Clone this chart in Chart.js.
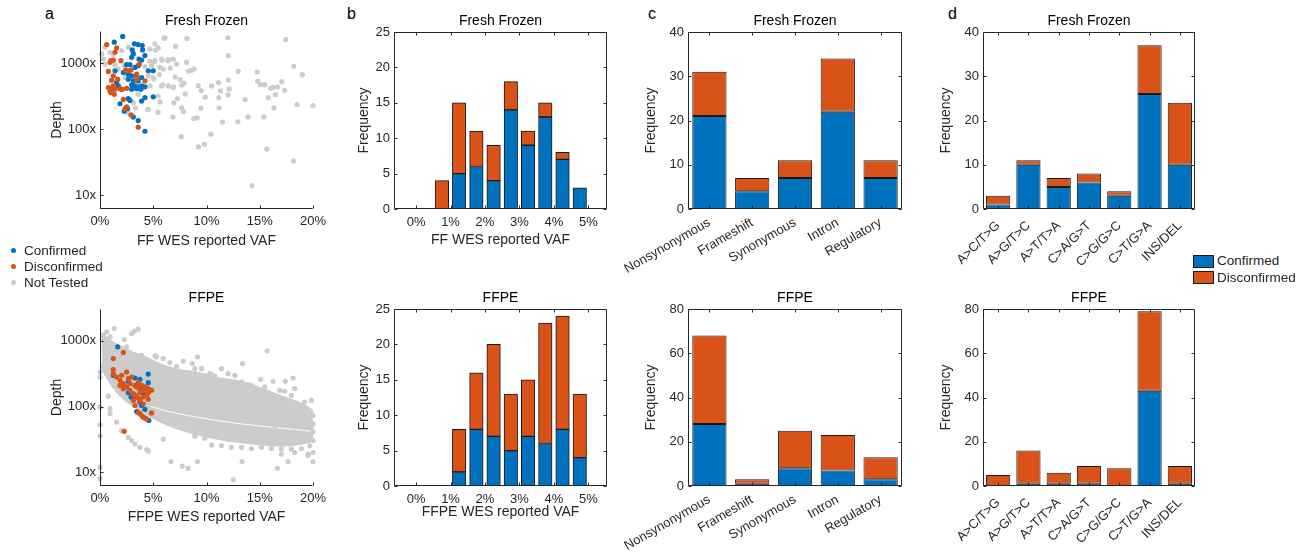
<!DOCTYPE html>
<html>
<head>
<meta charset="utf-8">
<script src="https://cdn.jsdelivr.net/npm/chart.js@4.4.0/dist/chart.umd.min.js"></script>
<style>
  body { margin: 0; background: #fff; width: 1311px; height: 557px; position: relative; overflow: hidden;
         font-family: 'Liberation Sans', Arial, Helvetica, sans-serif; }
  .tag { position: absolute; font-size: 16px; line-height: 16px; color: #000; }
  .lg { position: absolute; font-size: 13.5px; line-height: 16px; color: #262626; white-space: nowrap; }
  .lg span.dot { position: absolute; width: 5px; height: 5px; border-radius: 50%; }
  .lg span.box { position: absolute; width: 19px; height: 11px; border: 1px solid #1a1a1a; }
</style>
</head>
<body>
<div class="tag" style="left:45px;top:6px">a</div>
<div class="tag" style="left:347px;top:6px">b</div>
<div class="tag" style="left:648px;top:6px">c</div>
<div class="tag" style="left:948px;top:6px">d</div>

<script>
// ---- data ----
const seriesNames = ['Confirmed', 'Disconfirmed', 'Not Tested'];

// panel a, Fresh Frozen: [WES VAF %, depth]
const ffConf = [[2.13,2523],[1.34,2068],[3.22,1950],[3.59,1905],[3.97,1840],[3.03,1578],[4.0,1578],[3.13,1372],
  [4.22,1294],[2.97,1220],[3.66,1151],[3.91,1110],[2.81,943],[2.5,943],[3.59,911],[3.28,859],[4.53,764],[5.0,764],
  [1.41,764],[2.19,720],[2.66,679],[2.97,641],[3.44,641],[3.91,604],[2.66,570],[3.13,537],[3.59,537],[1.56,507],
  [1.72,451],[2.97,466],[3.28,451],[3.59,437],[3.91,451],[4.22,437],[2.97,401],[3.44,410],[3.84,401],[2.03,401],
  [4.22,299],[5.0,308],[2.66,290],[2.81,272],[1.88,242],[3.91,266],[2.59,205],[2.28,187],[3.13,152],[3.59,135],[4.22,93]];
const ffDisc = [[0.63,1905],[1.56,1694],[1.41,1455],[1.03,1085],[1.25,1110],[0.94,1024],[1.97,1085],[2.66,764],
  [2.91,782],[2.41,782],[3.44,679],[0.78,746],[1.25,641],[3.44,570],[4.22,537],[1.09,550],[1.66,570],[1.09,415],
  [1.41,401],[1.03,356],[1.88,410],[2.09,401],[1.25,451],[2.5,415],[1.34,336],[2.19,282],[2.5,218],[2.91,163],
  [3.59,107],[0.78,425],[0.94,378],[3.69,960],[2.34,202]];
const ffNone = [[6.09,2400],[5.16,1950],[5.47,1694],[4.69,1620],[2.66,1735],[2.03,1542],[0.94,1455],[1.25,1340],
  [5.16,1085],[5.78,1151],[6.41,1085],[6.88,1151],[4.84,911],[5.63,859],[0.16,1372],[0.31,1151],[0.47,965],
  [0.47,1735],[1.41,943],[1.72,810],[2.28,911],[4.22,880],[4.53,641],[5.0,604],[5.78,451],[6.41,451],[6.88,425],
  [4.69,451],[5.47,317],[4.53,199],[3.13,251],[3.34,210],[2.66,177],[2.97,166],[3.59,336],[2.34,604],
  [6.03,2355],[8.16,2355],[12.0,2410],[17.44,2275],[7.09,1783],[5.22,1571],[12.06,1290],[8.13,1023],[4.66,1072],
  [5.06,1047],[5.84,1097],[6.41,1122],[7.19,966],[6.59,841],[5.94,812],[8.84,812],[8.31,758],[8.59,775],[12.97,749],
  [14.75,732],[18.19,891],[19.0,667],[7.06,615],[7.53,561],[7.88,499],[7.69,466],[5.88,466],[11.13,505],[12.06,554],
  [14.81,529],[15.47,471],[15.06,471],[17.06,523],[5.06,574],[5.56,667],[9.22,455],[6.88,435],[10.47,450],[11.31,378],
  [12.13,406],[16.66,435],[16.25,430],[16.03,415],[17.34,387],[16.47,333],[15.81,300],[9.5,383],[9.88,304],[8.0,341],
  [7.28,290],[6.94,249],[5.63,258],[4.47,198],[5.44,180],[7.66,210],[7.84,185],[9.47,207],[11.16,300],[12.03,330],
  [11.19,210],[13.63,280],[16.34,210],[18.5,235],[20.0,227],[6.84,152],[8.81,145],[9.13,148],[11.5,128],[12.94,129],
  [13.91,153],[15.38,153],[7.63,77],[9.25,54],[9.81,59],[10.41,84],[15.66,50],[18.16,33],[14.28,14]];

// panel a, FFPE
const ffpeConf = [[1.66,810],[4.53,312],[3.28,272],[3.75,260],[2.66,242],[3.44,210],[1.25,299],[4.53,231],[3.91,177],
  [2.66,163],[2.91,140],[3.22,152],[3.91,104],[4.22,91],[3.44,84],[4.59,61.5],[3.75,117],[4.38,191],[4.16,152]];
const ffpeDisc = [[1.25,537],[2.19,664],[1.25,366],[1.25,317],[1.56,282],[1.88,251],[2.19,223],[2.5,199],[2.81,177],
  [3.13,157],[3.44,140],[3.75,124],[4.06,110],[2.5,336],[2.03,299],[2.66,266],[2.97,282],[2.81,223],[3.28,210],
  [3.59,191],[3.91,210],[4.22,199],[4.53,187],[4.84,177],[3.75,163],[3.28,148],[3.59,135],[4.06,140],[4.38,148],
  [4.53,129],[3.13,124],[3.28,104],[4.84,80],[3.59,82],[3.75,78],[3.91,73],[4.06,69],[4.22,67],[4.38,65],[3.44,199],
  [3.59,231],[4.06,177],[2.28,42],[1.88,210],[2.19,187],[4.53,163]];
const ffpeNone = [[0.63,1372],[1.34,1542],[2.28,1047],[2.97,1294],[3.59,1506],[3.22,1405],[0,336],[0,279],[0,98],
  [0,53],[0,36],[0,12],[0,8],[0.78,144],[0.94,93],[0.94,78],[1.56,58],[2.03,43],[2.66,34],[2.97,30.4],[3.28,27],
  [3.75,24],[4.38,22.2],[4.53,21.2],[5.94,32],[6.66,14.6],[7.72,12.4],[8.28,11.5],[9.16,14.6],[12.5,7.7],[13.34,14.6],
  [16.66,11.5],[17.66,14.6],[19.53,18],[20,14.6],[15.69,703],[13.38,451],[16.25,242],[18.13,272],[17.41,242],
  [5.31,570],[5.94,537],[7.81,490],[8.66,451],[9.16,570],[10.47,306],[9.94,292],[11.41,378],[12.03,317],[12.66,299],
  [13.91,216],[15.09,260],[15.78,166],[17.34,171],[18.28,187],[18.66,104],[19.22,117],[19.84,124],[20,73],[20,55],
  [18.91,55],[17.97,69],[19.53,61.5],[17.03,104],[15.78,61.5],[16.41,46],[18.28,49],[0.31,1220],[0.94,1151],
  [2.5,810],[3.28,604],[3.91,604],[5.16,590],[6.56,467],[7.19,410],[8.91,378],[9.53,378],[10.31,317],[10.78,292],
  [13.28,237],[14.22,210],[15.47,199],[16.88,177],[17.97,148],[8.91,35.5],[9.84,33],[10.47,26],[11.41,25.5],
  [12.34,24],[13.28,24],[14.22,23],[15.16,24],[16.09,23],[17.03,22.7],[17.97,22.7],[18.91,23],[19.69,25.5],[20,30.4],
  [20,41],[17.03,19],[18.28,20],[19.53,19],[20,20],[19.53,73],[19.69,58],[19.84,49],[19.53,36]];
// dense cloud of untested FFPE calls: upper and lower edge, and the thin empty arc inside it
const ffpeCloudTop = [[0.09,1151],[0.47,1085],[1.09,911],[2.03,764],[2.97,641],[4.22,537],[5.16,451],[6.41,378],
  [7.66,336],[8.91,317],[10.16,282],[11.41,251],[12.66,237],[13.91,210],[15.16,177],[16.41,148],[17.66,124],
  [18.91,104],[19.84,84],[20,73]];
const ffpeCloudBottom = [[0.16,451],[0.78,282],[1.41,199],[2.03,152],[2.66,124],[3.59,98],[4.53,78],[5.78,61.5],
  [7.34,48.6],[8.91,40.8],[10.47,35.5],[12.03,32],[13.59,29.7],[15.16,28],[16.72,27.1],[18.28,27.6],[19.53,30.4],[20,34.2]];
const ffpeCloudGap = [[4.69,101.8],[6.41,84.3],[8.91,70],[12.03,58],[15.16,50.4],[18.28,44.8],[20,41.8]];

// panel b: histogram bins (VAF %), counts
const vafBins = [0.75, 1.25, 1.75, 2.25, 2.75, 3.25, 3.75, 4.25, 4.75];
const ffHistConf = [0, 5, 6, 4, 14, 9, 13, 7, 3];
const ffHistDisc = [4, 10, 5, 5, 4, 2, 2, 1, 0];
const ffpeHistConf = [0, 2, 8, 7, 5, 7, 6, 8, 4];
const ffpeHistDisc = [0, 6, 8, 13, 8, 8, 17, 16, 9];

// panel c: variant effect
const effectCats = ['Nonsynonymous', 'Frameshift', 'Synonymous', 'Intron', 'Regulatory'];
const ffEffectConf = [21, 4, 7, 22, 7];
const ffEffectDisc = [10, 3, 4, 12, 4];
const ffpeEffectConf = [28, 1, 8, 7, 3];
const ffpeEffectDisc = [40, 2, 17, 16, 10];

// panel d: substitution class
const subCats = ['A>C/T>G', 'A>G/T>C', 'A>T/T>A', 'C>A/G>T', 'C>G/G>C', 'C>T/G>A', 'INS/DEL'];
const ffSubConf = [1, 10, 5, 6, 3, 26, 10];
const ffSubDisc = [2, 1, 2, 2, 1, 11, 14];
const ffpeSubConf = [0, 1, 1, 1, 0, 43, 1];
const ffpeSubDisc = [5, 15, 5, 8, 8, 36, 8];

const depthTicks = [10, 100, 1000];
const vafTicksA = [0, 5, 10, 15, 20];
const vafTicksB = [0, 1, 2, 3, 4, 5];

// ---- style ----
const BLUE = '#0072BD', ORANGE = '#D95319', GRAY = '#CCCCCC', INK = '#262626';
const seriesColors = [BLUE, ORANGE, GRAY];
Chart.defaults.font.family = "'Liberation Sans', Arial, Helvetica, sans-serif";
Chart.defaults.color = INK;

// matlab style axes: left/bottom lines (or full box) with inward ticks
const framePlugin = {
  id: 'frame',
  afterDatasetsDraw(chart, args, opts) {
    const {ctx, chartArea: a} = chart;
    const xs = chart.scales.x, ys = chart.scales.y;
    const L = Math.round(a.left) + 0.5, R = Math.round(a.right) - 0.5;
    const T = Math.round(a.top) + 0.5, B = Math.round(a.bottom) - 0.5;
    const len = 3;
    ctx.save();
    ctx.strokeStyle = INK;
    ctx.lineWidth = 1;
    ctx.beginPath();
    ctx.moveTo(L, T); ctx.lineTo(L, B); ctx.lineTo(R, B);
    if (opts.box) { ctx.lineTo(R, T); ctx.lineTo(L, T); }
    xs.ticks.forEach((t, i) => {
      const px = Math.round(xs.getPixelForTick(i)) + 0.5;
      ctx.moveTo(px, B); ctx.lineTo(px, B - len);
      if (opts.box) { ctx.moveTo(px, T); ctx.lineTo(px, T + len); }
    });
    ys.ticks.forEach((t, i) => {
      const py = Math.round(ys.getPixelForTick(i)) + 0.5;
      ctx.moveTo(L, py); ctx.lineTo(L + len, py);
      if (opts.box) { ctx.moveTo(R, py); ctx.lineTo(R - len, py); }
    });
    ctx.stroke();
    ctx.restore();
  }
};
Chart.register(framePlugin);

function addCanvas(box) {
  const c = document.createElement('canvas');
  c.width = box.w;
  c.height = box.h;
  c.style.cssText = `position:absolute;left:${box.x}px;top:${box.y}px;width:${box.w}px;height:${box.h}px`;
  document.body.appendChild(c);
  return c;
}

function fixedTicks(values) {
  return s => { s.ticks = values.map(v => ({value: v})); };
}

// work out paddings so the plot area lands where the figure has it
function panelOptions(p, x, y) {
  const {box, area} = p;
  x.afterFit = s => { s.height = box.y + box.h - area.b; };
  y.afterFit = s => { s.width = area.l - box.x; };
  y.title = {display: true, text: p.yLabel, font: {size: 14}, color: INK,
             padding: {top: p.yTitle - box.x - 8.4, bottom: 0}};
  if (p.xLabel) {
    x.title = {display: true, text: p.xLabel, font: {size: 14}, color: INK,
               padding: {top: 0, bottom: box.y + box.h - p.xTitle - 8.4}};
  }
  const plain = {grid: {display: false, drawTicks: false}, border: {display: false}};
  return {
    responsive: false,
    animation: false,
    devicePixelRatio: 1,
    layout: {padding: {left: 0, top: 0, bottom: 0, right: box.x + box.w - area.r}},
    scales: {
      x: Object.assign({}, plain, x),
      y: Object.assign({}, plain, y)
    },
    plugins: {
      legend: {display: false},
      tooltip: {enabled: false},
      title: {display: true, text: p.title, fullSize: false, color: '#000',
              font: {size: 14, weight: 'normal'},
              padding: {top: p.titleY - box.y - 8.4, bottom: area.t - p.titleY - 8.4}},
      frame: {box: p.boxed}
    }
  };
}

const toXY = arr => arr.map(d => ({x: d[0], y: d[1]}));

function scatterPanel(p, conf, disc, none, cloud) {
  const dot = {pointRadius: 2.6, pointBorderWidth: 0, pointHoverRadius: 2.6, clip: false};
  const datasets = [
    Object.assign({label: seriesNames[0], data: toXY(conf), backgroundColor: seriesColors[0], order: 2}, dot),
    Object.assign({label: seriesNames[1], data: toXY(disc), backgroundColor: seriesColors[1], order: 1}, dot),
    Object.assign({label: seriesNames[2], data: toXY(none), backgroundColor: seriesColors[2], order: 3}, dot)
  ];
  if (cloud) {
    const edge = {type: 'line', pointRadius: 0, borderWidth: 5, borderColor: GRAY, tension: 0.3};
    datasets.push(Object.assign({label: 'cloud top', data: toXY(cloud[0]), backgroundColor: GRAY, fill: '+1', order: 5}, edge));
    datasets.push(Object.assign({label: 'cloud bottom', data: toXY(cloud[1]), fill: false, order: 6}, edge));
    datasets.push({type: 'line', label: 'gap', data: toXY(cloud[2]), pointRadius: 0, borderWidth: 1,
                   borderColor: '#ffffff', tension: 0.3, fill: false, order: 4});
  }
  const x = {type: 'linear', min: 0, max: 20, afterBuildTicks: fixedTicks(vafTicksA),
             ticks: {callback: v => v + '%', font: {size: 13}, padding: 5, color: INK}};
  const y = {type: 'logarithmic', min: 6.2, max: 3050, afterBuildTicks: fixedTicks(depthTicks),
             ticks: {callback: v => v + 'x', font: {size: 13}, padding: 4, color: INK}};
  new Chart(addCanvas(p.box), {type: 'scatter', data: {datasets}, options: panelOptions(p, x, y)});
}

function barSets(conf, disc, xs) {
  const style = {borderColor: '#1a1a1a', borderWidth: 1, borderSkipped: false};
  const pick = arr => xs ? arr.map((v, i) => ({x: xs[i], y: v})) : arr;
  return [
    Object.assign({label: seriesNames[0], data: pick(conf), backgroundColor: BLUE}, style),
    Object.assign({label: seriesNames[1], data: pick(disc), backgroundColor: ORANGE}, style)
  ];
}

function histPanel(p, conf, disc) {
  const datasets = barSets(conf, disc, vafBins).map(d => Object.assign(d, {barThickness: 13.5}));
  const x = {type: 'linear', min: -0.64, max: 5.54, offset: false, stacked: true, afterBuildTicks: fixedTicks(vafTicksB),
             ticks: {callback: v => v + '%', font: {size: 13}, padding: 6, color: INK}};
  const y = {type: 'linear', min: 0, max: 25, stacked: true, afterBuildTicks: fixedTicks([0, 5, 10, 15, 20, 25]),
             ticks: {font: {size: 13}, padding: 4, color: INK}};
  new Chart(addCanvas(p.box), {type: 'bar', data: {datasets}, options: panelOptions(p, x, y)});
}

function catPanel(p, cats, conf, disc, yMax, rot, pad) {
  const datasets = barSets(conf, disc).map(d => Object.assign(d, {categoryPercentage: 1, barPercentage: 0.8}));
  const yTicks = [0, 1, 2, 3, 4].map(i => i * yMax / 4);
  const x = {type: 'category', stacked: true,
             ticks: {autoSkip: false, minRotation: rot, maxRotation: rot, font: {size: 13}, padding: pad, color: INK}};
  const y = {type: 'linear', min: 0, max: yMax, stacked: true, afterBuildTicks: fixedTicks(yTicks),
             ticks: {font: {size: 13}, padding: 4, color: INK}};
  new Chart(addCanvas(p.box), {type: 'bar', data: {labels: cats, datasets}, options: panelOptions(p, x, y)});
}

const topRow = {titleY: 21, title: 'Fresh Frozen', boxed: true};
const botRow = {titleY: 298.5, title: 'FFPE', boxed: true};

scatterPanel(Object.assign({}, topRow, {boxed: false, box: {x: 0, y: 0, w: 335, h: 262},
  area: {l: 100, t: 31, r: 313, b: 209}, yLabel: 'Depth', yTitle: 57.5, xLabel: 'FF WES reported VAF', xTitle: 241}),
  ffConf, ffDisc, ffNone, null);
scatterPanel(Object.assign({}, botRow, {boxed: false, box: {x: 0, y: 290, w: 335, h: 250},
  area: {l: 100, t: 309, r: 313, b: 486}, yLabel: 'Depth', yTitle: 57.5, xLabel: 'FFPE WES reported VAF', xTitle: 517}),
  ffpeConf, ffpeDisc, ffpeNone, [ffpeCloudTop, ffpeCloudBottom, ffpeCloudGap]);

histPanel(Object.assign({}, topRow, {box: {x: 335, y: 0, w: 290, h: 262}, area: {l: 394, t: 32, r: 607, b: 209},
  yLabel: 'Frequency', yTitle: 364, xLabel: 'FF WES reported VAF', xTitle: 240}), ffHistConf, ffHistDisc);
histPanel(Object.assign({}, botRow, {box: {x: 335, y: 290, w: 290, h: 250}, area: {l: 394, t: 309, r: 607, b: 486},
  yLabel: 'Frequency', yTitle: 364, xLabel: 'FFPE WES reported VAF', xTitle: 512}), ffpeHistConf, ffpeHistDisc);

catPanel(Object.assign({}, topRow, {box: {x: 600, y: 0, w: 320, h: 290}, area: {l: 688, t: 32, r: 902, b: 209},
  yLabel: 'Frequency', yTitle: 651.5}), effectCats, ffEffectConf, ffEffectDisc, 40, 30, 6);
catPanel(Object.assign({}, botRow, {box: {x: 600, y: 290, w: 320, h: 267}, area: {l: 688, t: 309, r: 902, b: 486},
  yLabel: 'Frequency', yTitle: 651.5}), effectCats, ffpeEffectConf, ffpeEffectDisc, 80, 30, 6);

catPanel(Object.assign({}, topRow, {box: {x: 920, y: 0, w: 290, h: 290}, area: {l: 983, t: 32, r: 1195, b: 209},
  yLabel: 'Frequency', yTitle: 946.5}), subCats, ffSubConf, ffSubDisc, 40, 45, 9);
catPanel(Object.assign({}, botRow, {box: {x: 920, y: 290, w: 290, h: 267}, area: {l: 983, t: 309, r: 1195, b: 486},
  yLabel: 'Frequency', yTitle: 946.5}), subCats, ffpeSubConf, ffpeSubDisc, 80, 45, 9);

// legends
seriesNames.forEach((name, i) => {
  const d = document.createElement('div');
  d.className = 'lg';
  d.style.cssText = `left:24px;top:${242.5 + i * 16}px`;
  d.innerHTML = `<span class="dot" style="left:-13.5px;top:5.5px;background:${seriesColors[i]}"></span>${name}`;
  document.body.appendChild(d);
});
seriesNames.slice(0, 2).forEach((name, i) => {
  const d = document.createElement('div');
  d.className = 'lg';
  d.style.cssText = `left:1217px;top:${253 + i * 16.5}px`;
  d.innerHTML = `<span class="box" style="left:-24px;top:1.5px;background:${seriesColors[i]}"></span>${name}`;
  document.body.appendChild(d);
});
</script>
</body>
</html>
